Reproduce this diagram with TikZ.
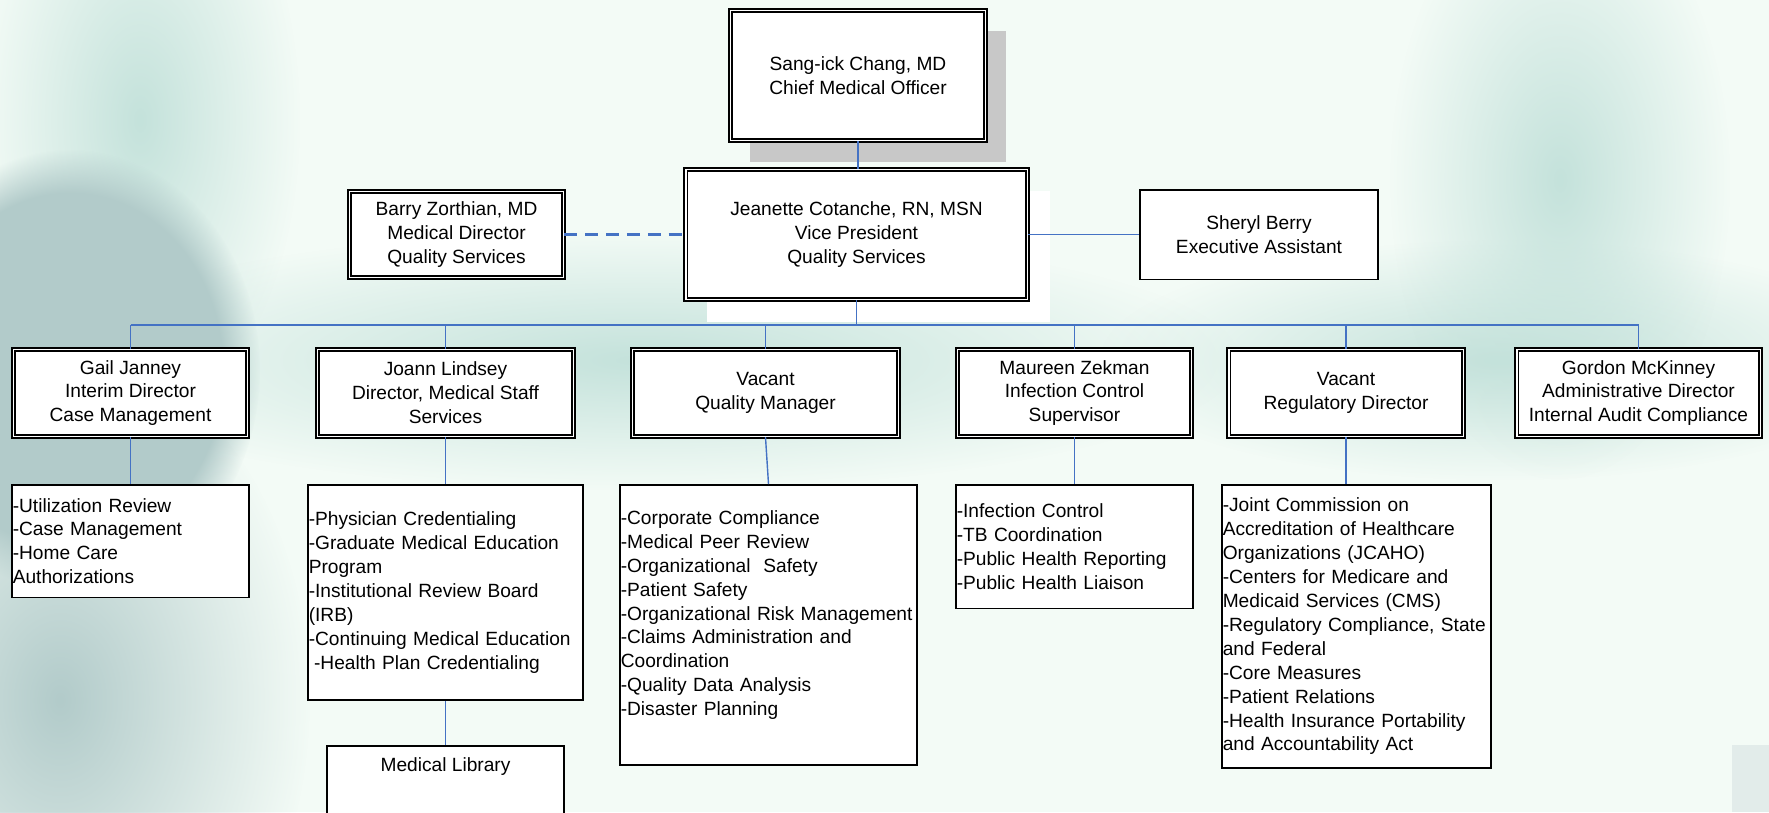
\documentclass[tikz,border=0pt]{standalone}
\usepackage{fontspec}
\setmainfont{Liberation Sans}
\usetikzlibrary{positioning, backgrounds, fadings, calc}

\definecolor{bgbase}{RGB}{243,251,246}
\definecolor{tealsoft}{RGB}{196,226,219}
\definecolor{tealgrey}{RGB}{178,203,202}
\definecolor{linkblue}{RGB}{68,114,196}
\definecolor{shadowgrey}{RGB}{200,200,200}
\definecolor{cornergrey}{RGB}{226,236,234}

\tikzfading[name=softblob, inner color=transparent!0, outer color=transparent!100]

\tikzset{
	dbox/.style={draw, fill=white, line width=0.8pt, double=white, double distance=1.1pt, align=center, inner sep=0pt},
	sbox/.style={draw, fill=white, line width=0.85pt, align=center, inner sep=0pt},
	listbox/.style={sbox, align=left, inner xsep=0.02cm},
	link/.style={draw=linkblue, line width=0.8pt},
	dashlink/.style={draw=linkblue, line width=1.7pt, dash pattern=on 7.4pt off 4.5pt}
}

\begin{document}
\begin{tikzpicture}[x=0.02cm, y=-0.02cm, font=\fontsize{10.9}{13.6}\selectfont]
	\useasboundingbox (0,0) rectangle (1769,812);
	% top of the chart
	\node[dbox, minimum width=5.1cm, minimum height=2.6cm] (cmo) at (858,75.5) {Sang-ick Chang, MD\\Chief Medical Officer};
	\node[dbox, minimum width=6.84cm, minimum height=2.6cm] (vp) at (856.5,234.5) {Jeanette Cotanche, RN, MSN\\Vice President\\Quality Services};
	\node[dbox, minimum width=4.28cm, minimum height=1.72cm] (barry) at (456.5,234.5) {Barry Zorthian, MD\\Medical Director\\Quality Services};
	\node[sbox, minimum width=4.77cm, minimum height=1.79cm] (sheryl) at (1259,234.5) {Sheryl Berry\\Executive Assistant};

	% directors
	\node[dbox, minimum width=4.68cm, minimum height=1.74cm] (gail) at (130.5,393) {Gail Janney\\Interim Director\\Case Management};
	\node[dbox, minimum width=5.12cm, minimum height=1.74cm] (joann) at (445.5,393) {Joann Lindsey\\Director, Medical Staff\\Services};
	\node[dbox, minimum width=5.32cm, minimum height=1.74cm] (qm) at (765.5,393) {Vacant\\Quality Manager};
	\node[dbox, minimum width=4.68cm, minimum height=1.74cm] (maureen) at (1074.5,393) {Maureen Zekman\\Infection Control\\Supervisor};
	\node[dbox, minimum width=4.7cm, minimum height=1.74cm] (rd) at (1346,393) {Vacant\\Regulatory Director};
	\node[dbox, minimum width=4.88cm, minimum height=1.74cm] (gordon) at (1638.5,393) {Gordon McKinney\\Administrative Director\\Internal Audit Compliance};

	% duty lists
	\node[listbox, text width=4.71cm, minimum height=2.25cm] (gail-list) at (130.5,541) {-Utilization Review\\-Case Management\\-Home Care\\Authorizations};
	\node[listbox, text width=5.47cm, minimum height=4.31cm] (joann-list) at (445.5,592.5) {-Physician Credentialing\\-Graduate Medical Education\\Program\\-Institutional Review Board\\(IRB)\\-Continuing Medical Education\\\hspace{3pt}-Health Plan Credentialing};
	\node[listbox, text width=5.91cm, minimum height=5.61cm] (qm-list) at (768.5,625) {-Corporate Compliance\\-Medical Peer Review\\-Organizational \ Safety\\-Patient Safety\\-Organizational Risk Management\\-Claims Administration and\\Coordination\\-Quality Data Analysis\\-Disaster Planning\\\mbox{}};
	\node[listbox, text width=4.71cm, minimum height=2.47cm] (maureen-list) at (1074.5,546.5) {-Infection Control\\-TB Coordination\\-Public Health Reporting\\-Public Health Liaison};
	\node[listbox, text width=5.35cm, minimum height=5.67cm] (rd-list) at (1356.5,626.5) {-Joint Commission on\\Accreditation of Healthcare\\Organizations (JCAHO)\\-Centers for Medicare and\\Medicaid Services (CMS)\\-Regulatory Compliance, State\\and Federal\\-Core Measures\\-Patient Relations\\-Health Insurance Portability\\and Accountability Act};
	\node[sbox, anchor=north, minimum width=4.75cm, minimum height=1.4cm] (lib) at (445.5,745) {};
	\node (lib-text) at (445.5,767) {Medical Library};

	% connectors
	\coordinate (bus) at (0,325);
	\draw[link] (cmo.south) -- (cmo.south |- vp.north);
	\draw[dashlink] (barry.east) -- (vp.west);
	\draw[link] (vp.east) -- (sheryl.west);
	\draw[link] (vp.south) -- (vp.south |- bus);
	\draw[link] (gail.north |- bus) -- (gordon.north |- bus);
	\foreach \d in {gail, joann, qm, maureen, rd, gordon}
		\draw[link] (\d.north) -- (\d.north |- bus);
	\foreach \d in {gail, joann, qm, maureen}
		\draw[link] (\d.south) -- (\d-list.north);
	\draw[link] (rd.south) -- (rd.south |- rd-list.north);
	\draw[link] (joann-list.south) -- (lib.north);

	% background and shadows
	\begin{scope}[on background layer]
		\fill[bgbase] (0,0) rectangle (1769,812);
		\fill[tealsoft, path fading=softblob] (140,120) ellipse (3.2cm and 6cm);
		\fill[tealsoft, path fading=softblob] (640,360) ellipse (12cm and 2.6cm);
		\fill[tealsoft, path fading=softblob] (1500,360) ellipse (8cm and 2.4cm);
		\fill[tealsoft, path fading=softblob] (1560,180) ellipse (3.4cm and 6cm);
		\fill[tealgrey, path fading=circle with fuzzy edge 20 percent] (70,370) ellipse (3.8cm and 4.4cm);
		\fill[tealgrey, path fading=softblob] (60,700) ellipse (5cm and 7cm);
		\fill[cornergrey] (1732,745) rectangle (1769,812);
		\fill[shadowgrey] ([shift={(20,21)}]cmo.north west) rectangle ([shift={(20,21)}]cmo.south east);
		\fill[white] ([shift={(22,22)}]vp.north west) rectangle ([shift={(22,22)}]vp.south east);
	\end{scope}
\end{tikzpicture}
\end{document}
